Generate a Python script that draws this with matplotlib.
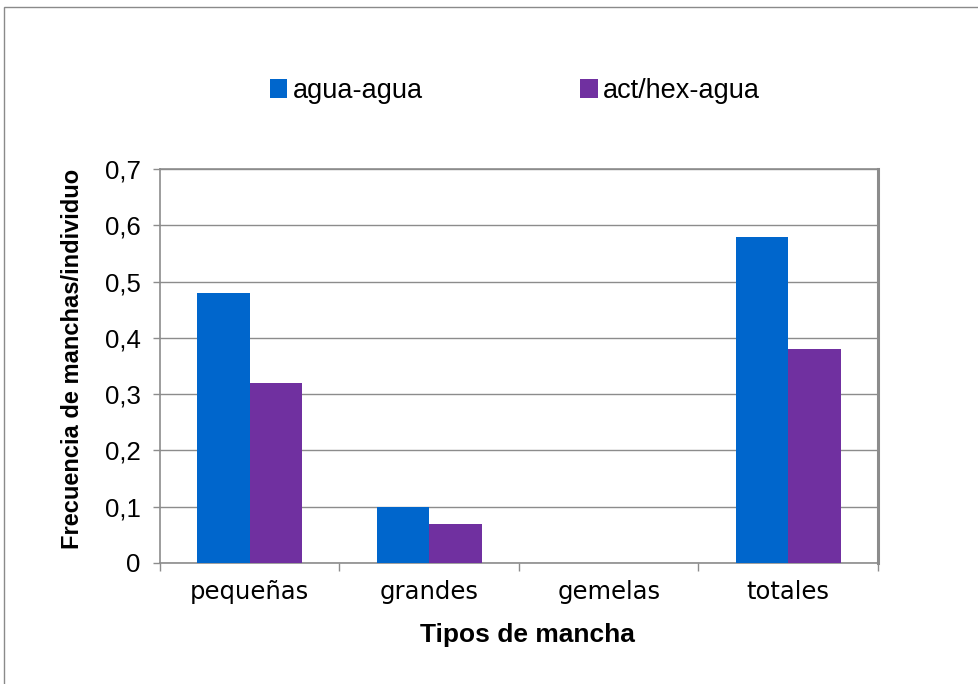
import matplotlib
matplotlib.use('Agg')
import matplotlib.pyplot as plt
import numpy as np
from matplotlib.patches import Rectangle

plt.rcParams['font.family'] = ['Liberation Sans', 'DejaVu Sans']

categories = ['pequeñas', 'grandes', 'gemelas', 'totales']
agua_agua = [0.48, 0.10, 0.0, 0.58]
act_hex_agua = [0.32, 0.07, 0.0, 0.38]
series_names = ['agua-agua', 'act/hex-agua']
y_ticks = [0.0, 0.1, 0.2, 0.3, 0.4, 0.5, 0.6, 0.7]
y_tick_labels = ['0', '0,1', '0,2', '0,3', '0,4', '0,5', '0,6', '0,7']

BLUE = '#0066CC'
PURPLE = '#7030A0'
GRID = '#8c8c8c'
BAR_W = 0.2925

fig = plt.figure(figsize=(9.79, 6.84), dpi=100)
W, H = 979, 684

# chart-area frame (only top and left edges fall inside the image)
fig.patches.append(Rectangle((4.5 / W, -0.1), 1.2, 1 - 6.5 / H + 0.1,
                             transform=fig.transFigure, fill=False,
                             edgecolor='#8a8a8a', lw=1.0))

ax = fig.add_axes([160 / W, 1 - 563 / H, 718 / W, 394 / H])

x = np.arange(len(categories))
ax.bar(x - BAR_W / 2, agua_agua, BAR_W, color=BLUE, label=series_names[0], zorder=3)
ax.bar(x + BAR_W / 2, act_hex_agua, BAR_W, color=PURPLE, label=series_names[1], zorder=3)

ax.set_xlim(-0.5, len(categories) - 0.5)
ax.set_ylim(0, 0.7)

ax.set_yticks(y_ticks)
ax.set_yticklabels(y_tick_labels, fontsize=18.5)
ax.tick_params(axis='y', length=5, width=1.0, color=GRID, pad=9)
ax.yaxis.grid(True, color=GRID, lw=1.0, zorder=0)

# boundary ticks between categories, labels centred on the groups
ax.set_xticks(np.arange(-0.5, len(categories), 1.0))
ax.set_xticklabels([])
ax.set_xticks(x, minor=True)
ax.set_xticklabels(categories, minor=True, fontsize=17.5, family=['DejaVu Sans'])
ax.tick_params(axis='x', which='major', length=6, width=1.0, color=GRID)
ax.tick_params(axis='x', which='minor', length=0, pad=12)

for side in ['left', 'bottom', 'top']:
    ax.spines[side].set_color(GRID)
    ax.spines[side].set_linewidth(1.2)
ax.spines['right'].set_color(GRID)
ax.spines['right'].set_linewidth(2.2)

fig.text(73 / W, 1 - 359 / H, 'Frecuencia de manchas/individuo', rotation=90,
         ha='center', va='center', fontsize=17, fontweight='bold')
fig.text(527 / W, 1 - 635 / H, 'Tipos de mancha', ha='center', va='center',
         fontsize=19, fontweight='bold')

fig.legend(loc='center', bbox_to_anchor=(515 / W, 1 - 91 / H), ncol=2,
           frameon=False, fontsize=19.5, handlelength=0.65, handleheight=0.65,
           handletextpad=0.2, columnspacing=5.8)

fig.savefig('out.png', dpi=100, facecolor='white')
